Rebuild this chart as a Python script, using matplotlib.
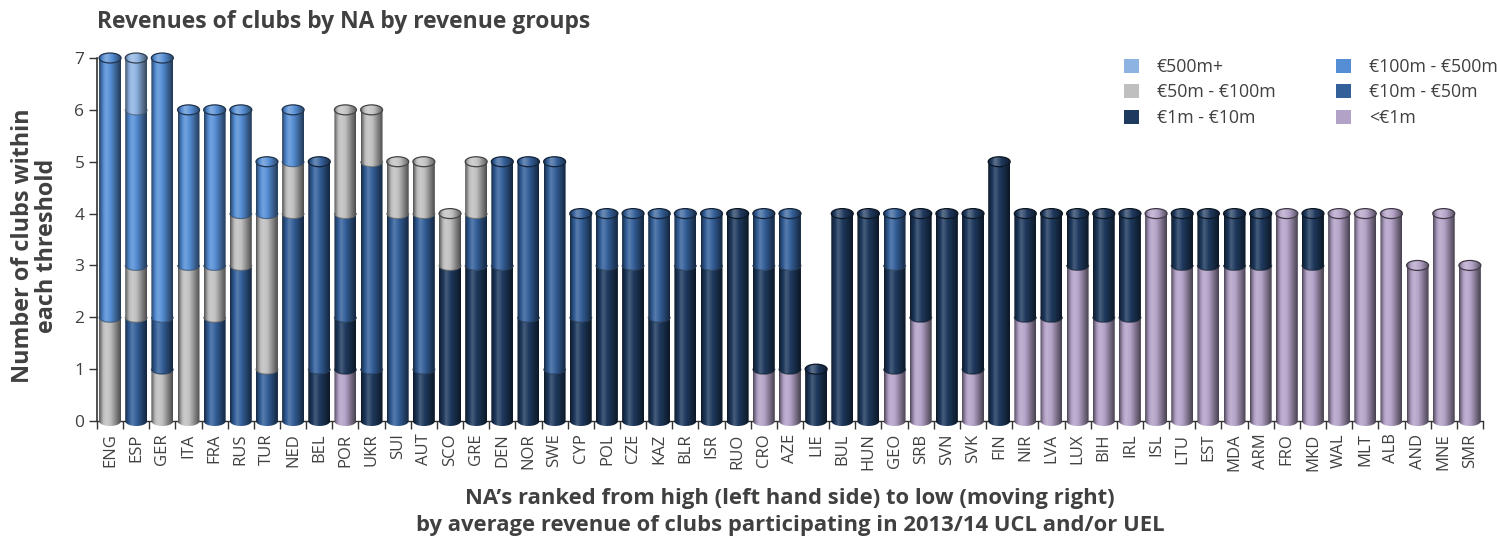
import numpy as np
import matplotlib
matplotlib.use("Agg")
import matplotlib.pyplot as plt
from matplotlib.patches import PathPatch, Ellipse, Patch
from matplotlib.path import Path
from matplotlib.colors import to_rgb

plt.rcParams['font.family'] = ['Open Sans', 'DejaVu Sans']

# ---------------- data ----------------
categories = ["ENG", "ESP", "GER", "ITA", "FRA", "RUS", "TUR", "NED", "BEL", "POR",
              "UKR", "SUI", "AUT", "SCO", "GRE", "DEN", "NOR", "SWE", "CYP", "POL",
              "CZE", "KAZ", "BLR", "ISR", "RUO", "CRO", "AZE", "LIE", "BUL", "HUN",
              "GEO", "SRB", "SVN", "SVK", "FIN", "NIR", "LVA", "LUX", "BIH", "IRL",
              "ISL", "LTU", "EST", "MDA", "ARM", "FRO", "MKD", "WAL", "MLT", "ALB",
              "AND", "MNE", "SMR"]

rev_500_plus = [0, 1, 0, 0, 0, 0, 0, 0, 0, 0,
                0, 0, 0, 0, 0, 0, 0, 0, 0, 0,
                0, 0, 0, 0, 0, 0, 0, 0, 0, 0,
                0, 0, 0, 0, 0, 0, 0, 0, 0, 0,
                0, 0, 0, 0, 0, 0, 0, 0, 0, 0,
                0, 0, 0]
rev_100_500 = [5, 3, 5, 3, 3, 2, 1, 1, 0, 0,
               0, 0, 0, 0, 0, 0, 0, 0, 0, 0,
               0, 0, 0, 0, 0, 0, 0, 0, 0, 0,
               0, 0, 0, 0, 0, 0, 0, 0, 0, 0,
               0, 0, 0, 0, 0, 0, 0, 0, 0, 0,
               0, 0, 0]
rev_50_100 = [2, 1, 1, 3, 1, 1, 3, 1, 0, 2,
              1, 1, 1, 1, 1, 0, 0, 0, 0, 0,
              0, 0, 0, 0, 0, 0, 0, 0, 0, 0,
              0, 0, 0, 0, 0, 0, 0, 0, 0, 0,
              0, 0, 0, 0, 0, 0, 0, 0, 0, 0,
              0, 0, 0]
rev_10_50 = [0, 2, 1, 0, 2, 3, 1, 4, 4, 2,
             4, 4, 3, 0, 1, 2, 3, 4, 2, 1,
             1, 2, 1, 1, 0, 1, 1, 0, 0, 0,
             1, 0, 0, 0, 0, 0, 0, 0, 0, 0,
             0, 0, 0, 0, 0, 0, 0, 0, 0, 0,
             0, 0, 0]
rev_1_10 = [0, 0, 0, 0, 0, 0, 0, 0, 1, 1,
            1, 0, 1, 3, 3, 3, 2, 1, 2, 3,
            3, 2, 3, 3, 4, 2, 2, 1, 4, 4,
            2, 2, 4, 3, 5, 2, 2, 1, 2, 2,
            0, 1, 1, 1, 1, 0, 1, 0, 0, 0,
            0, 0, 0]
rev_below_1 = [0, 0, 0, 0, 0, 0, 0, 0, 0, 1,
               0, 0, 0, 0, 0, 0, 0, 0, 0, 0,
               0, 0, 0, 0, 0, 1, 1, 0, 0, 0,
               1, 2, 0, 1, 0, 2, 2, 3, 2, 2,
               4, 3, 3, 3, 3, 4, 3, 4, 4, 4,
               3, 4, 3]

series_labels = ["€500m+", "€100m - €500m", "€50m - €100m",
                 "€10m - €50m", "€1m - €10m", "<€1m"]
series_values = [rev_500_plus, rev_100_500, rev_50_100,
                 rev_10_50, rev_1_10, rev_below_1]
series_colors = ["#8DB3E2", "#558ED5", "#BFBFBF", "#34609A", "#1F3A5F", "#B3A2C7"]

# stacking order bottom -> top (indices into series lists)
default_order = [5, 4, 3, 2, 1, 0]
order_override = {"GER": [5, 4, 2, 3, 1, 0]}

TEXT = "#404040"

# ---------------- helpers ----------------
u_pts = [0.0, 0.06, 0.18, 0.32, 0.48, 0.70, 0.88, 1.0]
f_pts = [0.42, 0.62, 0.95, 1.18, 1.05, 0.78, 0.55, 0.40]


def shaded(color, n=80, boost=0.0):
    base = np.array(to_rgb(color))
    u = np.linspace(0, 1, n)
    f = np.interp(u, u_pts, f_pts) + boost
    out = np.empty((1, n, 3))
    for i, fi in enumerate(f):
        if fi >= 1:
            out[0, i] = base + (1 - base) * min(fi - 1, 1)
        else:
            out[0, i] = base * fi
    return np.clip(out, 0, 1)


def darker(color, k=0.55):
    return tuple(np.array(to_rgb(color)) * k)


fig = plt.figure(figsize=(14.99, 5.48), dpi=100)
ax = fig.add_axes([0.0647, 0.2175, 0.9246, 0.6956])

half_w = 0.42
b = 0.096
th = np.linspace(0, np.pi, 40)

for i, cat in enumerate(categories):
    order = order_override.get(cat, default_order)
    y = 0.0
    top_color = None
    for k, si in enumerate(order):
        v = series_values[si][i]
        if v <= 0:
            continue
        y0, y1 = y, y + v
        col = series_colors[si]
        xs_l = [i - half_w, i - half_w]
        ys_l = [y1, y0]
        xb = i - half_w * np.cos(th)
        yb = y0 - b * np.sin(th)
        xt = i + half_w * np.cos(th)
        yt = y1 - b * np.sin(th)
        verts = np.concatenate([np.column_stack([xs_l, ys_l]),
                                np.column_stack([xb, yb]),
                                [[i + half_w, y1]],
                                np.column_stack([xt, yt]),
                                [[i - half_w, y1]]])
        codes = [Path.MOVETO] + [Path.LINETO] * (len(verts) - 2) + [Path.CLOSEPOLY]
        patch = PathPatch(Path(verts, codes), facecolor='none', edgecolor='none', zorder=2)
        ax.add_patch(patch)
        im = ax.imshow(shaded(col), extent=(i - half_w, i + half_w, y0 - b, y1),
                       aspect='auto', origin='lower', interpolation='bilinear', zorder=2)
        im.set_clip_path(patch)
        if y0 > 0:
            ax.plot(xb, yb, color=darker(col, 0.45), lw=0.8, alpha=0.7, zorder=3)
        y = y1
        top_color = col
    if top_color is not None:
        cap = Ellipse((i, y), 2 * half_w, 2 * b, facecolor='none',
                      edgecolor=darker(top_color, 0.35), lw=0.9, zorder=4)
        ax.add_patch(cap)
        im = ax.imshow(shaded(top_color, boost=0.1), extent=(i - half_w, i + half_w, y - b, y + b),
                       aspect='auto', origin='lower', interpolation='bilinear', zorder=3)
        im.set_clip_path(cap)

ax.set_xlim(-0.5, len(categories) - 0.5)
ax.set_ylim(-0.15, 7.2)

for side in ['top', 'right']:
    ax.spines[side].set_visible(False)
ax.spines['bottom'].set_position(('data', 0))
ax.spines['left'].set_bounds(0, 7)
ax.spines['left'].set_color("#333333")
ax.spines['bottom'].set_color("#333333")
ax.spines['left'].set_linewidth(1.2)
ax.spines['bottom'].set_linewidth(1.0)
ax.spines['bottom'].set_zorder(1)

ax.set_yticks(range(0, 8))
ax.tick_params(axis='y', length=6, width=1, color="#333333", labelsize=12.5,
               labelcolor=TEXT, pad=3)
ax.set_xticks(range(len(categories)))
ax.set_xticklabels(categories, rotation=90, fontsize=12, color=TEXT)
ax.set_xticks(np.arange(-0.5, len(categories), 1), minor=True)
ax.tick_params(axis='x', which='major', length=0, pad=9)
ax.tick_params(axis='x', which='minor', length=6, width=1, color="#333333")

fig.text(97 / 1499, 1 - 22 / 548, "Revenues of clubs by NA by revenue groups",
         fontsize=16.5, fontweight='bold', color=TEXT, ha='left', va='center')

fig.text(35 / 1499, 1 - 246 / 548, "Number of clubs within\neach threshold",
         fontsize=16.8, fontweight='bold', color=TEXT, ha='center', va='center',
         rotation=90, linespacing=1.05)

fig.text(790 / 1499, 1 - 512 / 548,
         "NA’s ranked from high (left hand side) to low (moving right)\n"
         "by average revenue of clubs participating in 2013/14 UCL and/or UEL",
         fontsize=15.8, fontweight='bold', color=TEXT, ha='center', va='center',
         linespacing=1.38)

leg_order = [0, 2, 4, 1, 3, 5]
handles = [Patch(facecolor=series_colors[j], edgecolor='none', label=series_labels[j])
           for j in leg_order]
fig.legend(handles=handles, loc='upper left', bbox_to_anchor=(1124 / 1499, 1 - 58 / 548),
           ncol=2, frameon=False, fontsize=12.8, handlelength=0.85, handleheight=0.85,
           handletextpad=1.0, columnspacing=3.4, labelspacing=0.42, labelcolor=TEXT,
           borderaxespad=0, borderpad=0)

fig.savefig("out.png", dpi=100)
